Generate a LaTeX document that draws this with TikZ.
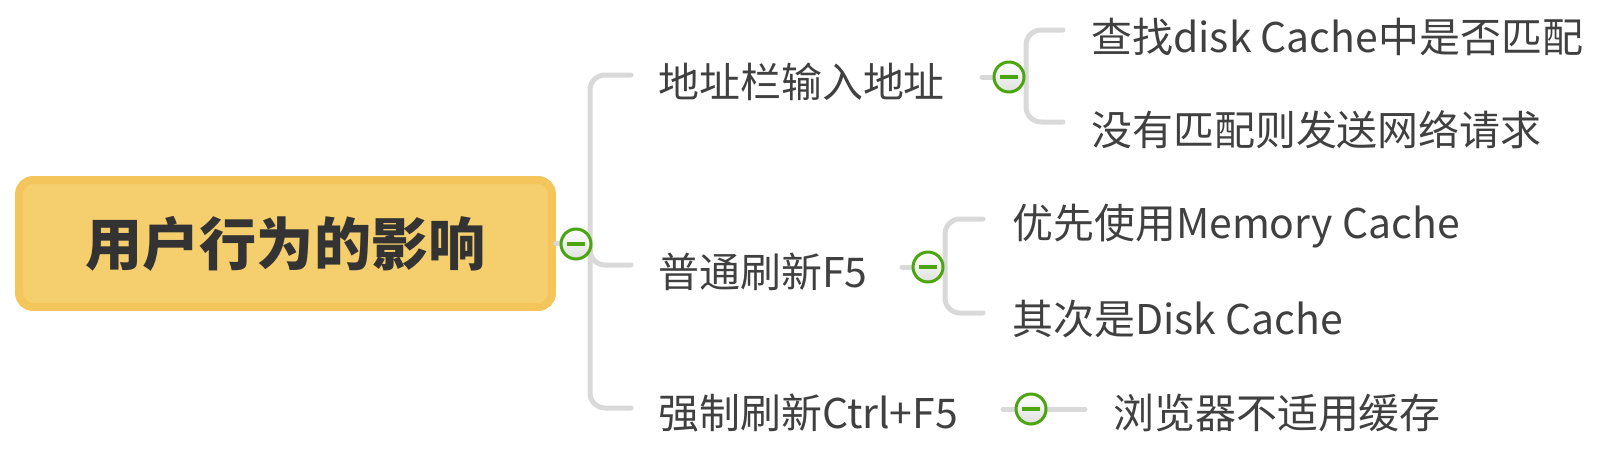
\documentclass[tikz,border=0pt]{standalone}
\usepackage{fontspec}
\usetikzlibrary{calc}
\newfontfamily\cjk{Noto Sans CJK SC}
\definecolor{rootfill}{HTML}{F5CE6D}
\definecolor{rootline}{HTML}{F3C55A}
\definecolor{linegray}{HTML}{D9D9D9}
\definecolor{textgray}{HTML}{404040}
\definecolor{icongreen}{HTML}{4BA50F}

\begin{document}
\begin{tikzpicture}[
    x=0.02cm, y=-0.02cm,
    every node/.style={font=\cjk},
    rootbox/.style={
        draw=rootline,
        fill=rootfill,
        line width=0.16cm,
        rounded corners=0.28cm,
        minimum width=10.66cm,
        minimum height=2.54cm,
        text=black!80,
        font=\cjk\bfseries\fontsize{32.5}{38}\selectfont
    },
    topic/.style={
        anchor=west,
        inner sep=0pt,
        text height=0.7cm,
        text depth=0.08cm,
        text=textgray,
        font=\cjk\fontsize{23.3}{28}\selectfont
    },
    branch/.style={draw=linegray, line width=0.1cm, line cap=round, rounded corners=0.3cm},
    icon/.style={
        circle,
        draw=icongreen,
        line width=0.06cm,
        minimum size=0.6cm,
        inner sep=0pt,
        top color=white,
        bottom color=green!5!gray!25,
        path picture={\draw[icongreen, line width=0.07cm]
            ($(path picture bounding box.center)+(-9,0)$) -- ++(18,0);}
    }
]
\useasboundingbox (0,0) rectangle (1611,460);

\node[rootbox] (root) at (285.5,243.5) {用户行为的影响};

\node[topic] (addr) at (658,82) {地址栏输入地址};
\node[topic] (refresh) at (658,272) {普通刷新F5};
\node[topic] (force) at (658,413) {强制刷新Ctrl+F5};

\node[topic] (findcache) at (1091,37) {查找disk Cache中是否匹配};
\node[topic] (sendreq) at (1091,130) {没有匹配则发送网络请求};
\node[topic] (memcache) at (1012,223) {优先使用Memory Cache};
\node[topic] (diskcache) at (1012,319) {其次是Disk Cache};
\node[topic] (nocache) at (1113,413) {浏览器不适用缓存};

% hubs and forks
\coordinate (roothub) at (576,244);
\coordinate (rootfork) at (590,244);
\coordinate (addrhub) at (1009,77);
\coordinate (addrfork) at (1026,77);
\coordinate (refreshhub) at (928,267);
\coordinate (refreshfork) at (945,267);
\coordinate (forcehub) at (1031,409);

\draw[branch] (root.east) -- (roothub);
\draw[branch] ([shift={(-27,-7)}]addr.west) -| (rootfork) |- ([shift={(-27,-5)}]force.west);
\draw[branch] (rootfork) |- ([shift={(-27,-7)}]refresh.west);

\draw[branch] ([xshift=-0.54cm]addrhub) -- (addrhub) -- (addrfork);
\draw[branch] ([shift={(-28,-7)}]findcache.west) -| (addrfork) |- ([shift={(-28,-8)}]sendreq.west);

\draw[branch] ([xshift=-0.52cm]refreshhub) -- (refreshhub) -- (refreshfork);
\draw[branch] ([shift={(-29,-4)}]memcache.west) -| (refreshfork) |- ([shift={(-29,-6)}]diskcache.west);

\draw[branch] ([xshift=-0.56cm]forcehub) -- (forcehub) -- ([shift={(-28,-4)}]nocache.west);

\node[icon] (rooticon) at (roothub) {};
\node[icon] (addricon) at (addrhub) {};
\node[icon] (refreshicon) at (refreshhub) {};
\node[icon] (forceicon) at (forcehub) {};

\end{tikzpicture}
\end{document}
